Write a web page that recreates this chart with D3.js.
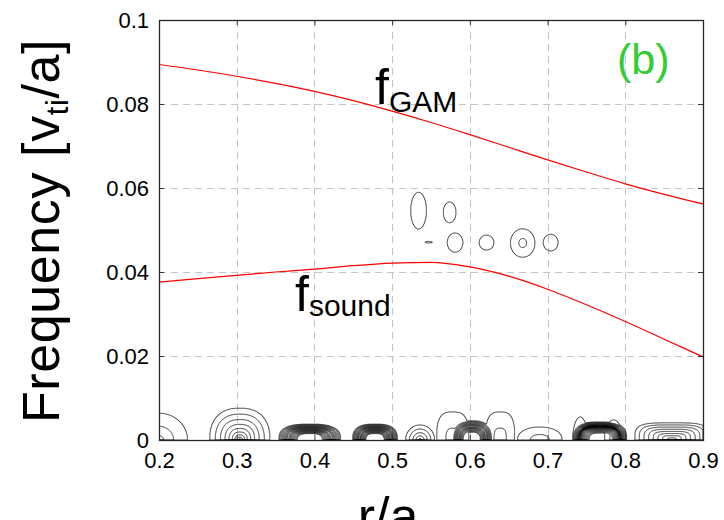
<!DOCTYPE html>
<html><head><meta charset="utf-8">
<script src="https://cdn.jsdelivr.net/npm/d3@7/dist/d3.min.js"></script>
<style>
body{margin:0;background:#fff}
svg{display:block}
text{font-family:"Liberation Sans",Arial,Helvetica,sans-serif;fill:#000}
</style>
</head><body>
<svg id="chart" width="724" height="520"></svg>
<script>
// ---------------- data ----------------
const rTicks = [0.2, 0.3, 0.4, 0.5, 0.6, 0.7, 0.8, 0.9];
const rTickLabels = ["0.2", "0.3", "0.4", "0.5", "0.6", "0.7", "0.8", "0.9"];
const fTicks = [0, 0.02, 0.04, 0.06, 0.08, 0.1];
const fTickLabels = ["0", "0.02", "0.04", "0.06", "0.08", "0.1"];

// radial positions where the two characteristic frequencies are sampled
const rSamples = [0.2, 0.25, 0.3, 0.35, 0.4, 0.45, 0.5, 0.55, 0.6, 0.65, 0.7, 0.75, 0.8, 0.85, 0.9];
const fGAM   = [0.0894, 0.0881, 0.0866, 0.0849, 0.0830, 0.0808, 0.0783, 0.0756, 0.0727, 0.0697, 0.0667, 0.0638, 0.0610, 0.0585, 0.0562];
const fSound = [0.0376, 0.0384, 0.0392, 0.0400, 0.0407, 0.0415, 0.0421, 0.0423, 0.0412, 0.0390, 0.0359, 0.0322, 0.0282, 0.0240, 0.0198];

// spectral peaks (contoured): r centre, f centre, r half-width, f half-height,
// number of contour levels, ring radius (0 = simple peak), inner ring width, squareness, sharpness
const lowModes = [
  [0.200, 0, 0.037, 0.0064,  3, 0,    0,    2,   0.6],
  [0.304, 0, 0.039, 0.0076, 10, 0,    0,    2.4, 0.5],
  [0.394, 0, 0.040, 0.0038,  9, 0.70, 0.30, 2.8, 0.85],
  [0.478, 0, 0.029, 0.0038,  9, 0.70, 0.30, 2.8, 0.85],
  [0.536, 0, 0.019, 0.0036,  5, 0,    0,    2,   0.7],
  [0.578, 0, 0.021, 0.0067,  2, 0,    0,    3,   0.8],
  [0.603, 0, 0.026, 0.0046,  8, 0.70, 0.30, 2.6, 0.85],
  [0.639, 0, 0.019, 0.0067,  2, 0,    0,    3,   0.8],
  [0.690, 0, 0.029, 0.0031,  2, 0,    0,    2.2, 0.8],
  [0.742, 0, 0.010, 0.0055,  2, 0,    0,    2,   0.8],
  [0.767, 0, 0.035, 0.0043, 13, 0.74, 0.36, 3,   0.6],
  [0.785, 0, 0.012, 0.0048,  2, 0,    0,    2,   0.8],
  [0.860, 0, 0.048, 0.0041,  8, 0,    0,    4,   1.0]
];
const gapModes = [
  [0.534, 0.0546, 0.0103, 0.0044, 1, 0, 0, 2, 1],
  [0.574, 0.0542, 0.0084, 0.0025, 1, 0, 0, 2, 1],
  [0.547, 0.0471, 0.0050, 0.0002, 1, 0, 0, 2, 1],
  [0.581, 0.0470, 0.0103, 0.0023, 1, 0, 0, 2, 1],
  [0.6215, 0.0470, 0.0097, 0.0018, 1, 0, 0, 2, 1],
  [0.668, 0.0469, 0.0160, 0.0034, 2, 0, 0, 2, 0.6],
  [0.704, 0.0470, 0.0097, 0.0020, 1, 0, 0, 2, 1]
];

// ---------------- layout ----------------
const W = 724, H = 520;
const m = {left: 159, right: 703, top: 20, bottom: 440};
const x = d3.scaleLinear().domain([0.2, 0.9]).range([m.left, m.right]);
const y = d3.scaleLinear().domain([0, 0.1]).range([m.bottom, m.top]);

const svg = d3.select("#chart");
svg.append("rect").attr("width", W).attr("height", H).attr("fill", "#fff");

svg.append("defs").append("clipPath").attr("id", "plotclip")
  .append("rect").attr("x", m.left).attr("y", m.top)
  .attr("width", m.right - m.left).attr("height", m.bottom - m.top);

// grid
const grid = svg.append("g").attr("stroke", "#c4c4c4").attr("stroke-width", 1)
  .attr("stroke-dasharray", "7,5");
grid.selectAll("line.v").data(rTicks.slice(1, -1)).join("line")
  .attr("x1", d => Math.round(x(d)) + 0.5).attr("x2", d => Math.round(x(d)) + 0.5)
  .attr("y1", m.top).attr("y2", m.bottom);
grid.selectAll("line.h").data(fTicks.slice(1, -1)).join("line")
  .attr("y1", d => Math.round(y(d)) + 0.5).attr("y2", d => Math.round(y(d)) + 0.5)
  .attr("x1", m.left).attr("x2", m.right);

// ---------------- contours ----------------
function fieldValue(modes, r, f) {
  let v = -1;
  for (const [r0, f0, rw, fw, n, ring, ringIn, q, p] of modes) {
    const dx = Math.abs(r - r0) / rw, dy = Math.abs(f - f0) / fw;
    if (dx > 1.2 || dy > 1.2) continue;
    let d = Math.pow(Math.pow(dx, q) + Math.pow(dy, q), 1 / q);
    if (ring > 0) d = d >= ring ? (d - ring) / (1 - ring) : (ring - d) / ringIn;
    if (d > 1) continue;
    const val = n * (1 - Math.pow(d, p));
    if (val > v) v = val;
  }
  return v;
}

function drawContours(modes, r0, r1, f0, f1, dr, df, levels) {
  const nx = Math.round((r1 - r0) / dr) + 1, ny = Math.round((f1 - f0) / df) + 1;
  const values = new Float64Array(nx * ny);
  for (let j = 0; j < ny; j++) {
    const f = f0 + j * df;
    for (let i = 0; i < nx; i++) values[j * nx + i] = fieldValue(modes, r0 + i * dr, f);
  }
  const thresholds = d3.range(0, levels).map(k => k + 1e-6);
  const contours = d3.contours().size([nx, ny]).thresholds(thresholds)(values);
  const proj = d3.geoTransform({
    point: function(gx, gy) { this.stream.point(x(r0 + (gx - 0.5) * dr), y(f0 + (gy - 0.5) * df)); }
  });
  const path = d3.geoPath(proj);
  svg.append("g").attr("clip-path", "url(#plotclip)")
    .selectAll("path").data(contours).join("path")
    .attr("d", path).attr("fill", "none").attr("stroke", "#000").attr("stroke-width", 0.8);
}
drawContours(lowModes, 0.2, 0.9, 0, 0.009, 0.0005, 0.00004, 16);
drawContours(gapModes, 0.5, 0.75, 0.04, 0.062, 0.0004, 0.00004, 2);

// ---------------- frequency curves ----------------
const line = d3.line().x(d => x(d[0])).y(d => y(d[1])).curve(d3.curveMonotoneX);
svg.append("path").datum(rSamples.map((r, i) => [r, fGAM[i]]))
  .attr("d", line).attr("fill", "none").attr("stroke", "#ff0000").attr("stroke-width", 1.2);
svg.append("path").datum(rSamples.map((r, i) => [r, fSound[i]]))
  .attr("d", line).attr("fill", "none").attr("stroke", "#ff0000").attr("stroke-width", 1.2);

// ---------------- axes ----------------
const xAxis = d3.axisBottom(x).tickValues(rTicks).tickFormat((d, i) => rTickLabels[i])
  .tickSize(-5).tickPadding(12);
const yAxis = d3.axisLeft(y).tickValues(fTicks).tickFormat((d, i) => fTickLabels[i])
  .tickSize(-5).tickPadding(10);
const gx = svg.append("g").attr("transform", `translate(0,${m.bottom})`).call(xAxis);
const gy = svg.append("g").attr("transform", `translate(${m.left},0)`).call(yAxis);
[gx, gy].forEach(g => {
  g.select(".domain").remove();
  g.selectAll(".tick line").attr("stroke", "#333");
  g.selectAll(".tick text").attr("font-size", 22).attr("fill", "#000")
    .attr("font-family", "Liberation Sans, Arial, sans-serif");
});
// top / right ticks
svg.append("g").call(d3.axisTop(x).tickValues(rTicks).tickSize(-5).tickFormat(""))
  .attr("transform", `translate(0,${m.top})`).call(g => g.select(".domain").remove())
  .selectAll("line").attr("stroke", "#333");
svg.append("g").call(d3.axisRight(y).tickValues(fTicks).tickSize(-5).tickFormat(""))
  .attr("transform", `translate(${m.right},0)`).call(g => g.select(".domain").remove())
  .selectAll("line").attr("stroke", "#333");

// frame
svg.append("rect").attr("x", m.left + 0.5).attr("y", m.top + 0.5)
  .attr("width", m.right - m.left).attr("height", m.bottom - m.top)
  .attr("fill", "none").attr("stroke", "#262626").attr("stroke-width", 1.3);

// ---------------- labels ----------------
const yt = svg.append("text").attr("transform", "translate(59,231) rotate(-90)")
  .attr("text-anchor", "middle").attr("font-size", 52).attr("letter-spacing", 0.6);
yt.append("tspan").text("Frequency [v");
yt.append("tspan").attr("font-size", 31).attr("dy", 9).text("ti");
yt.append("tspan").attr("dy", -9).text("/a]");

svg.append("text").attr("x", 388).attr("y", 534).attr("text-anchor", "middle")
  .attr("font-size", 52).text("r/a");

const tg = svg.append("text").attr("x", 375).attr("y", 104).attr("font-size", 50);
tg.append("tspan").text("f");
tg.append("tspan").attr("font-size", 30).attr("dy", 8).text("GAM");

const ts = svg.append("text").attr("x", 295).attr("y", 311).attr("font-size", 50);
ts.append("tspan").text("f");
ts.append("tspan").attr("font-size", 30).attr("dy", 5).text("sound");

svg.append("text").attr("x", 617).attr("y", 74).attr("font-size", 43)
  .style("fill", "#33cc33").text("(b)");
</script>
</body></html>
